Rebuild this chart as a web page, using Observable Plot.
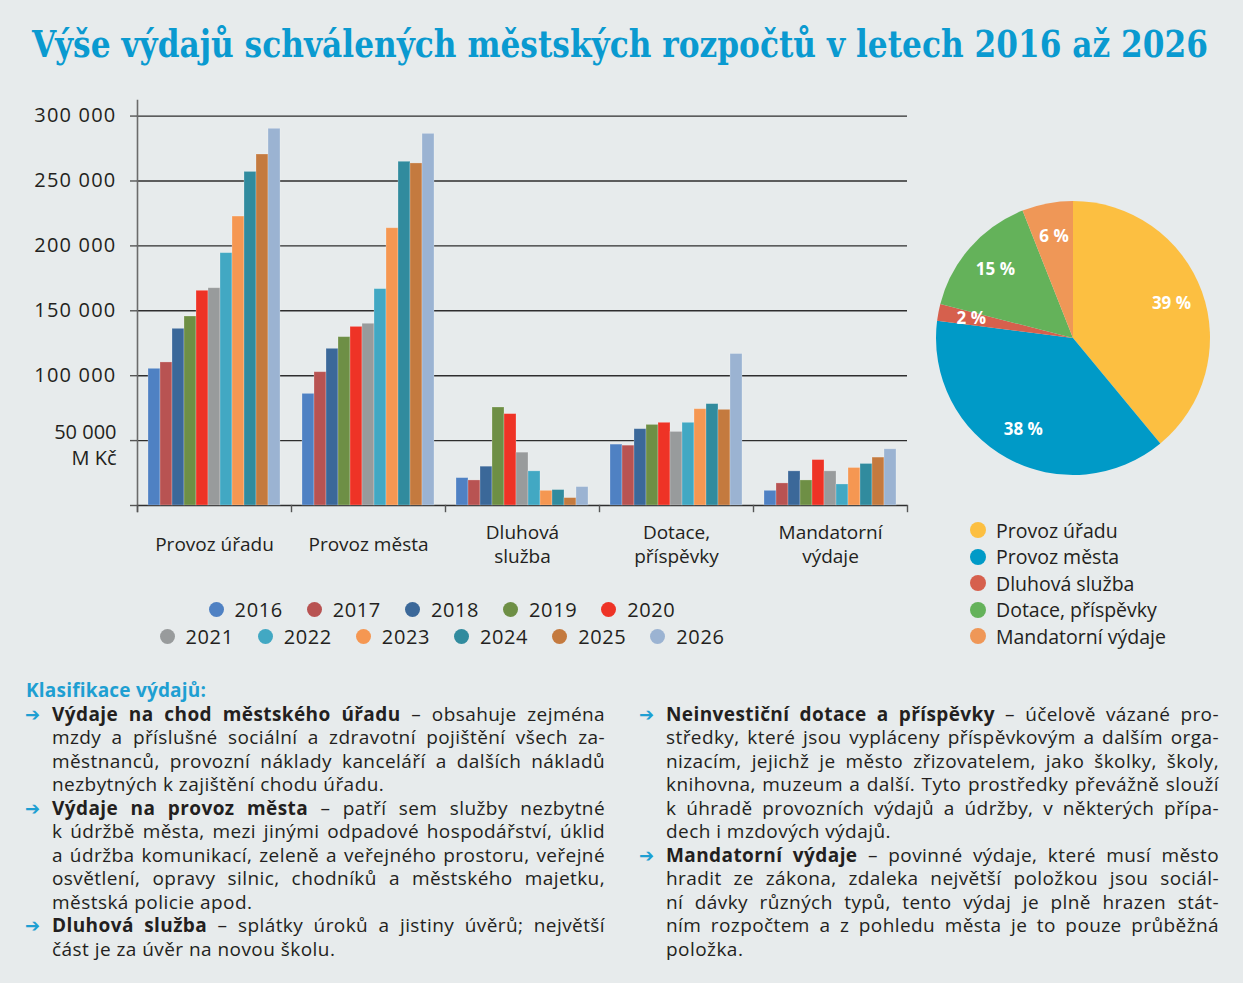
<!DOCTYPE html>
<html><head><meta charset="utf-8">
<script src="https://cdn.jsdelivr.net/npm/d3@7"></script>
<script src="https://cdn.jsdelivr.net/npm/@observablehq/plot@0.6"></script>
<style>
html,body{margin:0;padding:0;background:#e7ebec;}
#page{position:relative;width:1243px;height:983px;overflow:hidden;font-family:"Open Sans",sans-serif;color:#231f20;background:#e7ebec;}
#title{position:absolute;left:32px;top:25px;font-family:"DejaVu Serif",serif;font-weight:bold;font-size:38px;color:#0a9ad0;white-space:nowrap;transform-origin:0 0;line-height:1;}
#bars{position:absolute;left:0;top:80px;}
#bars g[aria-label="y-axis tick label"] text, #bars g[aria-label="unit"] text{letter-spacing:1.2px;}
#pie{position:absolute;left:928px;top:193px;}
.row{position:absolute;left:0;width:884px;height:26px;display:flex;justify-content:center;align-items:center;font-size:20px;letter-spacing:0.6px;}
.it{display:inline-flex;align-items:center;margin:0 12px;}
.it i{display:inline-block;width:15px;height:15px;border-radius:50%;margin-right:11px;}
#pleg{position:absolute;left:970px;top:517px;font-size:19.5px;}
#pleg div{height:26.5px;display:flex;align-items:center;}
#pleg i{display:inline-block;width:16px;height:16px;border-radius:50%;margin-right:10px;}
.col{position:absolute;top:679px;width:553px;font-size:19px;line-height:23.5px;letter-spacing:0.45px;}
.ln{white-space:nowrap;text-align:justify;text-align-last:justify;height:23.5px;position:relative;}
.ln.last{text-align-last:left;}
.arr{position:absolute;left:-27px;top:0;color:#1e9fd2;font-family:"DejaVu Sans",sans-serif;font-size:18px;font-weight:bold;letter-spacing:0;}
.hd{color:#1e9fd2;font-weight:700;margin-left:-26px;height:23.5px;letter-spacing:0.2px;}
b{font-weight:700;}
</style></head>
<body><div id="page">
<div id="title"><span id="tt">Výše výdajů schválených městských rozpočtů v letech 2016 až 2026</span></div>
<div id="bars"></div>
<div id="pie"></div>
<div id="yleg1" class="row" style="top:596px"></div>
<div id="yleg2" class="row" style="top:623px"></div>
<div id="pleg"></div>
<div class="col" style="left:52px">
  <div class="hd">Klasifikace výdajů:</div>
  <div class="ln"><span class="arr">➔</span><span><b>Výdaje na chod městského úřadu</b> – obsahuje zejména</span></div>
  <div class="ln"><span>mzdy a příslušné sociální a zdravotní pojištění všech za-</span></div>
  <div class="ln"><span>městnanců, provozní náklady kanceláří a dalších nákladů</span></div>
  <div class="ln last"><span>nezbytných k zajištění chodu úřadu.</span></div>
  <div class="ln"><span class="arr">➔</span><span><b>Výdaje na provoz města</b> – patří sem služby nezbytné</span></div>
  <div class="ln"><span>k údržbě města, mezi jinými odpadové hospodářství, úklid</span></div>
  <div class="ln"><span>a údržba komunikací, zeleně a veřejného prostoru, veřejné</span></div>
  <div class="ln"><span>osvětlení, opravy silnic, chodníků a městského majetku,</span></div>
  <div class="ln last"><span>městská policie apod.</span></div>
  <div class="ln"><span class="arr">➔</span><span><b>Dluhová služba</b> – splátky úroků a jistiny úvěrů; největší</span></div>
  <div class="ln last"><span>část je za úvěr na novou školu.</span></div>
</div>
<div class="col" style="left:666px;top:702.5px">
  <div class="ln"><span class="arr">➔</span><span><b>Neinvestiční dotace a příspěvky</b> – účelově vázané pro-</span></div>
  <div class="ln"><span>středky, které jsou vypláceny příspěvkovým a dalším orga-</span></div>
  <div class="ln"><span>nizacím, jejichž je město zřizovatelem, jako školky, školy,</span></div>
  <div class="ln"><span>knihovna, muzeum a další. Tyto prostředky převážně slouží</span></div>
  <div class="ln"><span>k úhradě provozních výdajů a údržby, v některých přípa-</span></div>
  <div class="ln last"><span>dech i mzdových výdajů.</span></div>
  <div class="ln"><span class="arr">➔</span><span><b>Mandatorní výdaje</b> – povinné výdaje, které musí město</span></div>
  <div class="ln"><span>hradit ze zákona, zdaleka největší položkou jsou sociál-</span></div>
  <div class="ln"><span>ní dávky různých typů, tento výdaj je plně hrazen stát-</span></div>
  <div class="ln"><span>ním rozpočtem a z pohledu města je to pouze průběžná</span></div>
  <div class="ln last"><span>položka.</span></div>
</div>
</div>
<script>
// ---- data ----
const categories = ["Provoz úřadu", "Provoz města", "Dluhová služba", "Dotace, příspěvky", "Mandatorní výdaje"];
const categoryLabels = ["Provoz úřadu", "Provoz města", "Dluhová\nslužba", "Dotace,\npříspěvky", "Mandatorní\nvýdaje"];
const years = ["2016", "2017", "2018", "2019", "2020", "2021", "2022", "2023", "2024", "2025", "2026"];
const provozUradu   = [105300, 110200, 136100, 145600, 165400, 167400, 194400, 222600, 257000, 270400, 290200];
const provozMesta   = [86000, 102700, 120700, 129700, 137600, 140000, 166700, 213600, 264800, 263500, 286300];
const dluhovaSluzba = [21100, 19300, 29900, 75500, 70400, 40700, 26300, 11300, 11900, 5700, 14200];
const dotace        = [46900, 46100, 58800, 62100, 63700, 56700, 63700, 74200, 78100, 73700, 116700];
const mandatorni    = [11300, 17000, 26300, 19300, 35000, 26300, 16200, 28900, 32000, 36900, 43300];
const yTicks = [0, 50000, 100000, 150000, 200000, 250000, 300000];
const unitLabel = "M Kč";
const yearColors = ["#4f81c3", "#b85352", "#3b6899", "#6e8f45", "#ee3326", "#989b9c", "#42a8c3", "#f59752", "#318b9e", "#c47a3f", "#9bb3d2"];
const pieNames = ["Provoz úřadu", "Provoz města", "Dluhová služba", "Dotace, příspěvky", "Mandatorní výdaje"];
const pieShares = [39, 38, 2, 15, 6];
const pieColors = ["#fcbf41", "#009ac7", "#d6604d", "#64b25a", "#ef9757"];

const series = [provozUradu, provozMesta, dluhovaSluzba, dotace, mandatorni];
const rows = categories.flatMap((c, i) => years.map((y, j) => ({cat: c, year: y, value: series[i][j]})));
const fmt = d => d3.format(",")(d).replace(/,/g, " ");

const bars = Plot.plot({
  width: 928, height: 500,
  marginTop: 20, marginBottom: 75, marginLeft: 135, marginRight: 20,
  style: {background: "transparent", fontFamily: "Open Sans", fontSize: "20px", color: "#231f20", overflow: "visible"},
  fx: {domain: categories, padding: 0, axis: null},
  x: {domain: years, paddingInner: 0, paddingOuter: 0.75, axis: null},
  y: {domain: [0, 312000]},
  color: {domain: years, range: yearColors},
  marks: [
    Plot.ruleY(yTicks, {stroke: "#2e2e2e", strokeWidth: 1.4}),
    Plot.barY(rows, {fx: "cat", x: "year", y: "value", fill: "year", stroke: "#ffffff", strokeOpacity: 0.3, strokeWidth: 0.8}),
    Plot.frame({anchor: "left", facetAnchor: "left", stroke: "#6b6b6b", strokeWidth: 1.6, insetBottom: -6}),
    Plot.frame({anchor: "left", stroke: "#555", strokeWidth: 1.4, insetTop: 405, insetBottom: -6}),
    Plot.frame({anchor: "right", facetAnchor: "right", stroke: "#555", strokeWidth: 1.4, insetTop: 405, insetBottom: -6}),
    Plot.axisY(yTicks, {tickSize: 7, tickPadding: 14, stroke: "#555", strokeWidth: 1.4, label: null, fontSize: 20,
      tickFormat: d => (d === 0 || d === 50000) ? "" : fmt(d)}),
    Plot.text([50000], {fx: () => categories[0], y: d => d, text: d => fmt(d), frameAnchor: "left", dx: -21, dy: -8, textAnchor: "end", fontSize: 20, ariaLabel: "unit"}),
    Plot.text([50000], {fx: () => categories[0], y: d => d, text: () => unitLabel, frameAnchor: "left", dx: -21, dy: 18, textAnchor: "end", fontSize: 20, ariaLabel: "unit"}),
    Plot.text(categories, {fx: d => d, text: (d, i) => categoryLabels[i], frameAnchor: "bottom", dy: 38, lineAnchor: "middle", lineHeight: 1.25, fontSize: 19})
  ]
});
document.getElementById("bars").append(bars);

// pie
const pieData = pieNames.map((n, i) => ({name: n, share: pieShares[i], color: pieColors[i]}));
const arcs = d3.pie().sort(null).value(d => d.share)(pieData);
const mid = a => (a.startAngle + a.endAngle) / 2;
const pie = Plot.plot({
  width: 290, height: 290, margin: 8,
  style: {background: "transparent", fontFamily: "Open Sans", overflow: "visible"},
  x: {domain: [-1, 1], axis: null},
  y: {domain: [-1, 1], axis: null},
  marks: [
    (index, scales) => {
      const cx = scales.x(0), cy = scales.y(0), r = scales.x(1) - scales.x(0);
      const g = d3.create("svg:g").attr("transform", `translate(${cx},${cy})`);
      g.selectAll("path").data(arcs).join("path")
        .attr("d", d3.arc().innerRadius(0).outerRadius(r))
        .attr("fill", d => d.data.color);
      return g.node();
    },
    Plot.text(arcs, {x: a => Math.sin(mid(a)) * 0.76, y: a => Math.cos(mid(a)) * 0.76, text: a => a.data.share + " %",
      fill: "white", fontSize: 17, fontWeight: "bold"})
  ]
});
document.getElementById("pie").append(pie);

// legends
const yl1 = document.getElementById("yleg1"), yl2 = document.getElementById("yleg2");
years.forEach((y, i) => {
  const s = document.createElement("span"); s.className = "it";
  s.innerHTML = `<i style="background:${yearColors[i]}"></i>${y}`;
  (i < 5 ? yl1 : yl2).append(s);
});
const pl = document.getElementById("pleg");
pieNames.forEach((n, i) => {
  const d = document.createElement("div");
  d.innerHTML = `<i style="background:${pieColors[i]}"></i>${n}`;
  pl.append(d);
});

function fit() {
  const tt = document.getElementById("tt");
  const w = tt.getBoundingClientRect().width;
  document.getElementById("title").style.transform = `scaleX(${1176 / w})`;
  document.querySelectorAll(".ln").forEach(el => {
    const span = el.lastElementChild;
    const w = span.getBoundingClientRect().width, W = el.clientWidth;
    if (w > W - 1) {
      const n = span.textContent.length;
      const cur = parseFloat(getComputedStyle(span).letterSpacing) || 0;
      span.style.letterSpacing = (cur + (W - 2 - w) / n) + "px";
    }
    el.style.whiteSpace = "normal";
  });
}
if (document.fonts && document.fonts.ready) document.fonts.ready.then(fit); else fit();
</script>
</body></html>
